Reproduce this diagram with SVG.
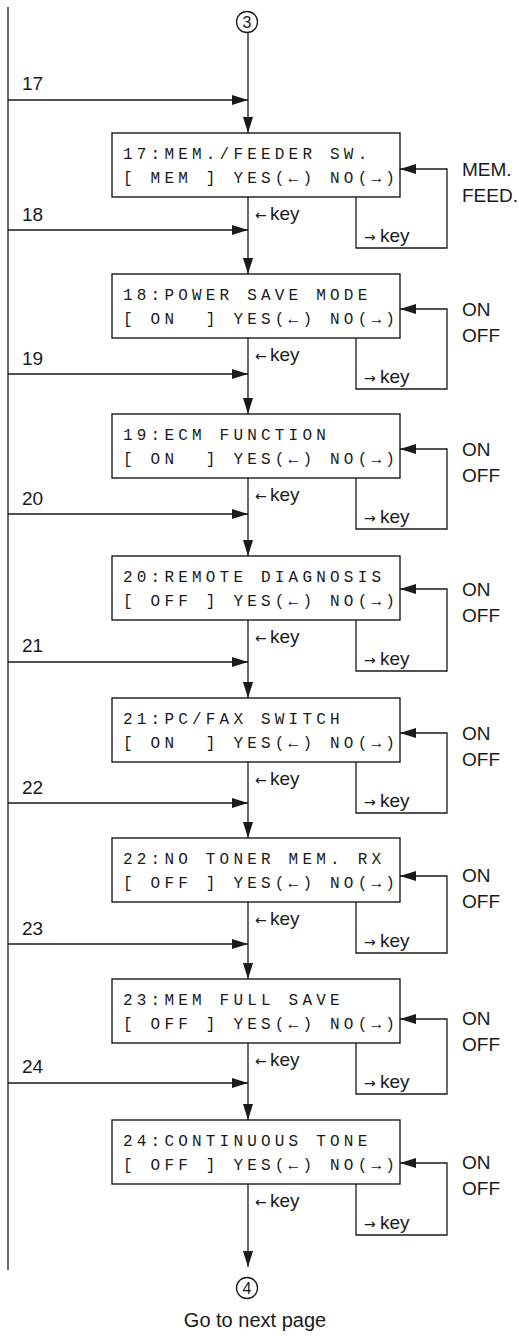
<svg xmlns="http://www.w3.org/2000/svg" width="519" height="1336" viewBox="0 0 519 1336" xml:space="preserve">
<style>
.ln{fill:none;stroke:#1a1a1a;stroke-width:1.3}
.box{fill:#fff;stroke:#1a1a1a;stroke-width:1.4}
.mono{font-family:"Liberation Mono","DejaVu Sans Mono",monospace;font-size:16px;letter-spacing:4.2px;fill:#1a1a1a;white-space:pre}
.lab{font-family:"Liberation Sans",Arial,sans-serif;font-size:19px;fill:#1a1a1a}
.sm{font-family:"DejaVu Sans",sans-serif;font-size:14px;fill:#1a1a1a}
</style>
<defs>
<marker id="ah" markerUnits="userSpaceOnUse" markerWidth="16" markerHeight="10" refX="16" refY="5" orient="auto">
<path d="M0,0 L16,5 L0,10 z" fill="#1a1a1a"/>
</marker>
</defs>
<g id="connectors">
<line class="ln" x1="8" y1="7" x2="8" y2="1270"/>
<g id="c3"><circle class="ln" cx="247" cy="22" r="10.5"/><text class="lab" x="247" y="28" text-anchor="middle" style="font-size:16px">3</text></g>
<g id="c4"><circle class="ln" cx="247" cy="1288" r="10.5"/><text class="lab" x="247" y="1294" text-anchor="middle" style="font-size:16px">4</text></g>
<text class="lab" x="255" y="1327" text-anchor="middle" style="font-size:20px">Go to next page</text>
<path class="ln" d="M248,33 V133" marker-end="url(#ah)"/>
<path class="ln" d="M248,197 V274" marker-end="url(#ah)"/>
<path class="ln" d="M248,338 V414" marker-end="url(#ah)"/>
<path class="ln" d="M248,478 V556" marker-end="url(#ah)"/>
<path class="ln" d="M248,620 V698" marker-end="url(#ah)"/>
<path class="ln" d="M248,762 V838" marker-end="url(#ah)"/>
<path class="ln" d="M248,902 V979" marker-end="url(#ah)"/>
<path class="ln" d="M248,1043 V1120" marker-end="url(#ah)"/>
<path class="ln" d="M248,1184 V1267" marker-end="url(#ah)"/>
<path class="ln" d="M8,100 H248" marker-end="url(#ah)"/><text class="lab" x="22" y="90">17</text>
<path class="ln" d="M8,230 H248" marker-end="url(#ah)"/><text class="lab" x="22" y="221">18</text>
<path class="ln" d="M8,374 H248" marker-end="url(#ah)"/><text class="lab" x="22" y="365">19</text>
<path class="ln" d="M8,514 H248" marker-end="url(#ah)"/><text class="lab" x="22" y="505">20</text>
<path class="ln" d="M8,662 H248" marker-end="url(#ah)"/><text class="lab" x="22" y="652">21</text>
<path class="ln" d="M8,803 H248" marker-end="url(#ah)"/><text class="lab" x="22" y="794">22</text>
<path class="ln" d="M8,944 H248" marker-end="url(#ah)"/><text class="lab" x="22" y="935">23</text>
<path class="ln" d="M8,1083 H248" marker-end="url(#ah)"/><text class="lab" x="22" y="1073">24</text>
<text x="255" y="220"><tspan class="sm">←</tspan><tspan class="lab" x="270">key</tspan></text>
<text x="255" y="361"><tspan class="sm">←</tspan><tspan class="lab" x="270">key</tspan></text>
<text x="255" y="501"><tspan class="sm">←</tspan><tspan class="lab" x="270">key</tspan></text>
<text x="255" y="643"><tspan class="sm">←</tspan><tspan class="lab" x="270">key</tspan></text>
<text x="255" y="785"><tspan class="sm">←</tspan><tspan class="lab" x="270">key</tspan></text>
<text x="255" y="925"><tspan class="sm">←</tspan><tspan class="lab" x="270">key</tspan></text>
<text x="255" y="1066"><tspan class="sm">←</tspan><tspan class="lab" x="270">key</tspan></text>
<text x="255" y="1207"><tspan class="sm">←</tspan><tspan class="lab" x="270">key</tspan></text>
<path class="ln" d="M356,197 V248 H447 V169 H400" marker-end="url(#ah)"/>
<text x="364" y="242"><tspan class="sm">→</tspan><tspan class="lab" x="380">key</tspan></text>
<text class="lab" x="462" y="176">MEM.</text><text class="lab" x="462" y="202">FEED.</text>
<path class="ln" d="M356,338 V389 H447 V309 H400" marker-end="url(#ah)"/>
<text x="364" y="383"><tspan class="sm">→</tspan><tspan class="lab" x="380">key</tspan></text>
<text class="lab" x="462" y="316">ON</text><text class="lab" x="462" y="342">OFF</text>
<path class="ln" d="M356,478 V529 H447 V449 H400" marker-end="url(#ah)"/>
<text x="364" y="523"><tspan class="sm">→</tspan><tspan class="lab" x="380">key</tspan></text>
<text class="lab" x="462" y="456">ON</text><text class="lab" x="462" y="482">OFF</text>
<path class="ln" d="M356,620 V671 H447 V589 H400" marker-end="url(#ah)"/>
<text x="364" y="665"><tspan class="sm">→</tspan><tspan class="lab" x="380">key</tspan></text>
<text class="lab" x="462" y="596">ON</text><text class="lab" x="462" y="622">OFF</text>
<path class="ln" d="M356,762 V813 H447 V733 H400" marker-end="url(#ah)"/>
<text x="364" y="807"><tspan class="sm">→</tspan><tspan class="lab" x="380">key</tspan></text>
<text class="lab" x="462" y="740">ON</text><text class="lab" x="462" y="766">OFF</text>
<path class="ln" d="M356,902 V953 H447 V876 H400" marker-end="url(#ah)"/>
<text x="364" y="947"><tspan class="sm">→</tspan><tspan class="lab" x="380">key</tspan></text>
<text class="lab" x="462" y="882">ON</text><text class="lab" x="462" y="908">OFF</text>
<path class="ln" d="M356,1043 V1094 H447 V1019 H400" marker-end="url(#ah)"/>
<text x="364" y="1088"><tspan class="sm">→</tspan><tspan class="lab" x="380">key</tspan></text>
<text class="lab" x="462" y="1025">ON</text><text class="lab" x="462" y="1051">OFF</text>
<path class="ln" d="M356,1184 V1235 H447 V1163 H400" marker-end="url(#ah)"/>
<text x="364" y="1229"><tspan class="sm">→</tspan><tspan class="lab" x="380">key</tspan></text>
<text class="lab" x="462" y="1169">ON</text><text class="lab" x="462" y="1195">OFF</text>
</g>
<g id="n17"><rect class="box" x="112" y="133" width="288" height="64"/><text class="mono" x="123" y="159">17:MEM./FEEDER SW.</text><text class="mono" x="123" y="183">[ MEM ] YES(←) NO(→)</text></g>
<g id="n18"><rect class="box" x="112" y="274" width="288" height="64"/><text class="mono" x="123" y="300">18:POWER SAVE MODE</text><text class="mono" x="123" y="324">[ ON  ] YES(←) NO(→)</text></g>
<g id="n19"><rect class="box" x="112" y="414" width="288" height="64"/><text class="mono" x="123" y="440">19:ECM FUNCTION</text><text class="mono" x="123" y="464">[ ON  ] YES(←) NO(→)</text></g>
<g id="n20"><rect class="box" x="112" y="556" width="288" height="64"/><text class="mono" x="123" y="582">20:REMOTE DIAGNOSIS</text><text class="mono" x="123" y="606">[ OFF ] YES(←) NO(→)</text></g>
<g id="n21"><rect class="box" x="112" y="698" width="288" height="64"/><text class="mono" x="123" y="724">21:PC/FAX SWITCH</text><text class="mono" x="123" y="748">[ ON  ] YES(←) NO(→)</text></g>
<g id="n22"><rect class="box" x="112" y="838" width="288" height="64"/><text class="mono" x="123" y="864">22:NO TONER MEM. RX</text><text class="mono" x="123" y="888">[ OFF ] YES(←) NO(→)</text></g>
<g id="n23"><rect class="box" x="112" y="979" width="288" height="64"/><text class="mono" x="123" y="1005">23:MEM FULL SAVE</text><text class="mono" x="123" y="1029">[ OFF ] YES(←) NO(→)</text></g>
<g id="n24"><rect class="box" x="112" y="1120" width="288" height="64"/><text class="mono" x="123" y="1146">24:CONTINUOUS TONE</text><text class="mono" x="123" y="1170">[ OFF ] YES(←) NO(→)</text></g>
</svg>
